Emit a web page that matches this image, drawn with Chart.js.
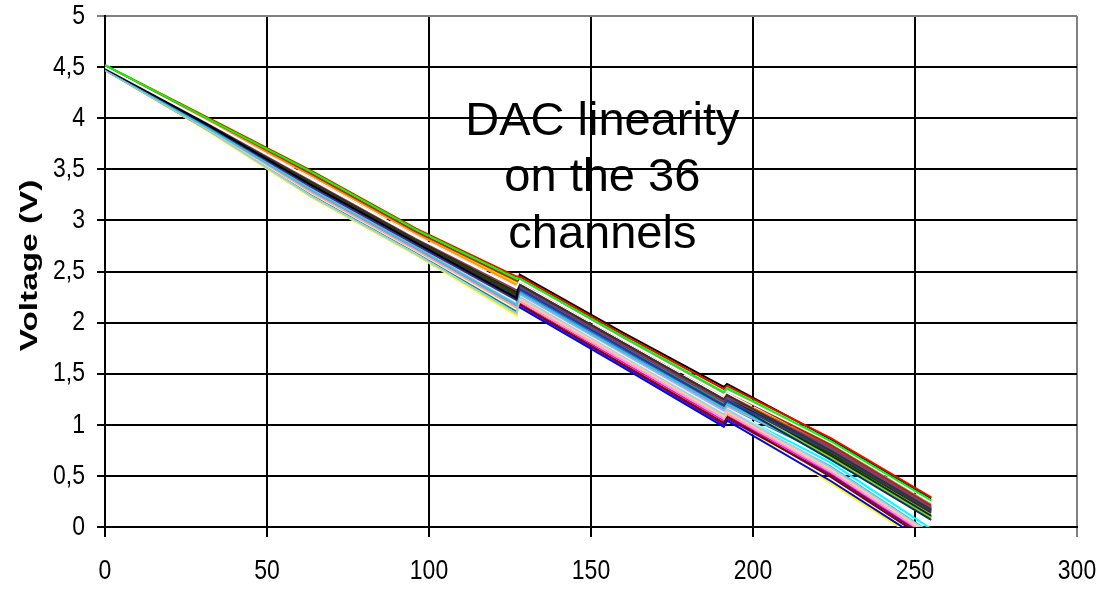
<!DOCTYPE html>
<html>
<head>
<meta charset="utf-8">
<script src="https://cdn.jsdelivr.net/npm/chart.js@4.4.1/dist/chart.umd.min.js"></script>
<style>
  body { margin: 0; background: #fff; }
  #wrap { width: 1107px; height: 590px; }
</style>
</head>
<body>
<div id="wrap"><canvas id="dacChart"></canvas></div>
<script>
const codes = [0, 32, 64, 96, 127, 128, 160, 191, 192, 224, 255];

// measured output voltage (V) per channel
const ch1  = [4.49, 3.93, 3.34, 2.78, 2.24, 2.29, 1.71, 1.16, 1.20, 0.74, 0.16];
const ch2  = [4.48, 3.89, 3.26, 2.70, 2.13, 2.20, 1.61, 1.04, 1.09, 0.53, -0.11];
const ch3  = [4.47, 3.87, 3.22, 2.66, 2.07, 2.18, 1.59, 1.02, 1.08, 0.43, -0.20];
const ch4  = [4.48, 3.91, 3.30, 2.74, 2.18, 2.25, 1.66, 1.10, 1.15, 0.63, -0.02];
const ch5  = [4.48, 3.90, 3.29, 2.73, 2.17, 2.17, 1.58, 1.00, 1.06, 0.51, -0.13];
const ch6  = [4.49, 3.92, 3.32, 2.76, 2.22, 2.18, 1.59, 1.02, 1.08, 0.49, -0.15];
const ch7  = [4.47, 3.88, 3.25, 2.69, 2.11, 2.28, 1.70, 1.14, 1.18, 0.69, 0.10];
const ch8  = [4.48, 3.90, 3.27, 2.71, 2.15, 2.15, 1.56, 0.98, 1.04, 0.45, -0.18];
const ch9  = [4.48, 3.91, 3.30, 2.74, 2.18, 2.23, 1.65, 1.08, 1.13, 0.59, -0.06];
const ch10 = [4.49, 3.92, 3.31, 2.75, 2.20, 2.26, 1.68, 1.12, 1.17, 0.57, -0.07];
const ch11 = [4.49, 3.94, 3.35, 2.79, 2.26, 2.31, 1.73, 1.18, 1.22, 0.72, 0.14];
const ch12 = [4.48, 3.89, 3.26, 2.70, 2.13, 2.21, 1.63, 1.06, 1.11, 0.55, -0.09];
const ch13 = [4.47, 3.88, 3.23, 2.67, 2.09, 2.25, 1.66, 1.10, 1.15, 0.58, -0.07];
const ch14 = [4.48, 3.90, 3.27, 2.71, 2.15, 2.21, 1.63, 1.06, 1.11, 0.54, -0.10];
const ch15 = [4.48, 3.91, 3.30, 2.74, 2.18, 2.28, 1.70, 1.14, 1.18, 0.71, 0.13];
const ch16 = [4.49, 3.92, 3.32, 2.76, 2.22, 2.23, 1.65, 1.08, 1.13, 0.56, -0.08];
const ch17 = [4.50, 3.94, 3.36, 2.80, 2.28, 2.31, 1.73, 1.18, 1.22, 0.75, 0.17];
const ch18 = [4.48, 3.90, 3.29, 2.73, 2.17, 2.29, 1.71, 1.16, 1.20, 0.70, 0.11];
const ch19 = [4.50, 3.95, 3.38, 2.82, 2.30, 2.33, 1.75, 1.19, 1.24, 0.68, 0.09];
const ch20 = [4.51, 3.98, 3.44, 2.88, 2.39, 2.36, 1.78, 1.23, 1.27, 0.77, 0.18];
const ch21 = [4.51, 3.97, 3.43, 2.87, 2.37, 2.37, 1.80, 1.25, 1.29, 0.78, 0.19];
const ch22 = [4.50, 3.96, 3.40, 2.84, 2.34, 2.37, 1.80, 1.25, 1.29, 0.79, 0.20];
const ch23 = [4.50, 3.94, 3.36, 2.80, 2.28, 2.34, 1.76, 1.21, 1.26, 0.77, 0.18];
const ch24 = [4.50, 3.95, 3.39, 2.83, 2.32, 2.42, 1.85, 1.31, 1.35, 0.81, 0.22];
const ch25 = [4.49, 3.94, 3.35, 2.79, 2.26, 2.33, 1.75, 1.19, 1.24, 0.66, 0.07];
const ch26 = [4.49, 3.93, 3.34, 2.78, 2.24, 2.34, 1.76, 1.21, 1.26, 0.73, 0.15];
const ch27 = [4.50, 3.95, 3.38, 2.82, 2.30, 2.36, 1.78, 1.23, 1.27, 0.70, 0.11];
const ch28 = [4.50, 3.94, 3.36, 2.80, 2.28, 2.37, 1.80, 1.25, 1.29, 0.72, 0.14];
const ch29 = [4.51, 3.99, 3.45, 2.89, 2.41, 2.41, 1.83, 1.29, 1.33, 0.80, 0.21];
const ch30 = [4.50, 3.95, 3.39, 2.83, 2.32, 2.36, 1.78, 1.23, 1.27, 0.78, 0.19];
const ch31 = [4.49, 3.92, 3.32, 2.76, 2.22, 2.33, 1.75, 1.19, 1.24, 0.74, 0.16];
const ch32 = [4.49, 3.94, 3.35, 2.79, 2.26, 2.37, 1.80, 1.25, 1.29, 0.75, 0.17];
const ch33 = [4.49, 3.93, 3.34, 2.78, 2.24, 2.47, 1.90, 1.37, 1.40, 0.86, 0.28];
const ch34 = [4.50, 3.96, 3.40, 2.84, 2.34, 2.41, 1.83, 1.29, 1.33, 0.83, 0.25];
const ch35 = [4.52, 4.00, 3.48, 2.92, 2.45, 2.45, 1.88, 1.35, 1.38, 0.87, 0.29];
const ch36 = [4.52, 3.99, 3.47, 2.91, 2.43, 2.43, 1.86, 1.32, 1.36, 0.84, 0.26];

const channels = [ch1, ch2, ch3, ch4, ch5, ch6, ch7, ch8, ch9, ch10, ch11, ch12,
    ch13, ch14, ch15, ch16, ch17, ch18, ch19, ch20, ch21, ch22, ch23, ch24,
    ch25, ch26, ch27, ch28, ch29, ch30, ch31, ch32, ch33, ch34, ch35, ch36];

// old Excel series palette, in series order
const lineColors = ['#000080', '#FF00FF', '#FFFF00', '#00FFFF', '#800080', '#800000', '#008080', '#0000FF',
    '#00CCFF', '#CCFFFF', '#CCFFCC', '#FFFF99', '#99CCFF', '#FF99CC', '#CC99FF', '#FFCC99',
    '#3366FF', '#33CCCC', '#99CC00', '#FFCC00', '#FF9900', '#FF6600', '#666699', '#969696',
    '#003366', '#339966', '#003300', '#333300', '#993300', '#993366', '#333399', '#333333',
    '#000000', '#FFFFFF', '#FF0000', '#00FF00'];

const xTickLabels = ['0', '50', '100', '150', '200', '250', '300'];
const yTickLabels = ['0', '0,5', '1', '1,5', '2', '2,5', '3', '3,5', '4', '4,5', '5'];
const yTitle = 'Voltage (V)';
const noteLines = ['DAC linearity', 'on the 36', 'channels'];

document.addEventListener('DOMContentLoaded', function () {
    const FONT = '"Liberation Sans", Arial, sans-serif';

    // draws tick labels, the axis title and the note (Excel text is a bit tall)
    const textPlugin = {
        id: 'textPlugin',
        afterDraw(chart) {
            const ctx = chart.ctx;
            const area = chart.chartArea;
            const xs = chart.scales.x, ys = chart.scales.y;
            ctx.save();
            ctx.fillStyle = '#000';

            ctx.font = '23px ' + FONT;
            ctx.textBaseline = 'middle';
            ctx.textAlign = 'right';
            ys.ticks.forEach((t, i) => {
                ctx.save();
                ctx.translate(area.left - 20, ys.getPixelForValue(t.value));
                ctx.scale(1, 1.22);
                ctx.fillText(yTickLabels[i], 0, 0);
                ctx.restore();
            });
            ctx.textAlign = 'center';
            xs.ticks.forEach((t, i) => {
                ctx.save();
                ctx.translate(xs.getPixelForValue(t.value), area.bottom + 44);
                ctx.scale(1, 1.22);
                ctx.fillText(xTickLabels[i], 0, 0);
                ctx.restore();
            });

            ctx.textBaseline = 'alphabetic';
            ctx.font = '47px ' + FONT;
            const cx = xs.getPixelForValue(153.5);
            noteLines.forEach((t, i) => {
                ctx.fillText(t, cx, ys.getPixelForValue(3.84 - i * 0.555));
            });

            // axis title, stretched along the text like the original
            ctx.translate(31, (area.top + area.bottom) / 2 - 6);
            ctx.rotate(-Math.PI / 2);
            ctx.scale(1.45, 1);
            ctx.textBaseline = 'middle';
            ctx.font = 'bold 23px ' + FONT;
            ctx.fillText(yTitle, 0, 0);
            ctx.restore();
        }
    };

    const ctx = document.getElementById('dacChart').getContext('2d');
    new Chart(ctx, {
        type: 'line',
        data: {
            datasets: channels.map((vals, i) => ({
                label: 'ch' + (i + 1),
                data: codes.map((c, k) => ({ x: c, y: vals[k] })),
                borderColor: lineColors[i],
                borderWidth: 2,
                pointRadius: 0,
                tension: 0,
                fill: false,
                order: channels.length - i // last series on top
            }))
        },
        options: {
            responsive: true,
            maintainAspectRatio: false,
            animation: false,
            layout: { padding: { top: 16, right: 30, left: 0, bottom: 0 } },
            plugins: {
                legend: { display: false },
                tooltip: { enabled: false }
            },
            scales: {
                x: {
                    type: 'linear',
                    min: 0,
                    max: 300,
                    afterFit: (s) => { s.height = 63; },
                    ticks: { stepSize: 50, display: false },
                    grid: {
                        lineWidth: 2,
                        tickLength: 10,
                        color: (c) => (c.tick && c.tick.value === 300 ? '#808080' : '#000')
                    },
                    border: { color: '#000', width: 2 }
                },
                y: {
                    min: 0,
                    max: 5,
                    afterFit: (s) => { s.width = 105; },
                    ticks: { stepSize: 0.5, display: false },
                    grid: {
                        lineWidth: 2,
                        tickLength: 8,
                        color: (c) => (c.tick && c.tick.value === 5 ? '#808080' : '#000')
                    },
                    border: { color: '#000', width: 2 }
                }
            }
        },
        plugins: [textPlugin]
    });
});
</script>
</body>
</html>
